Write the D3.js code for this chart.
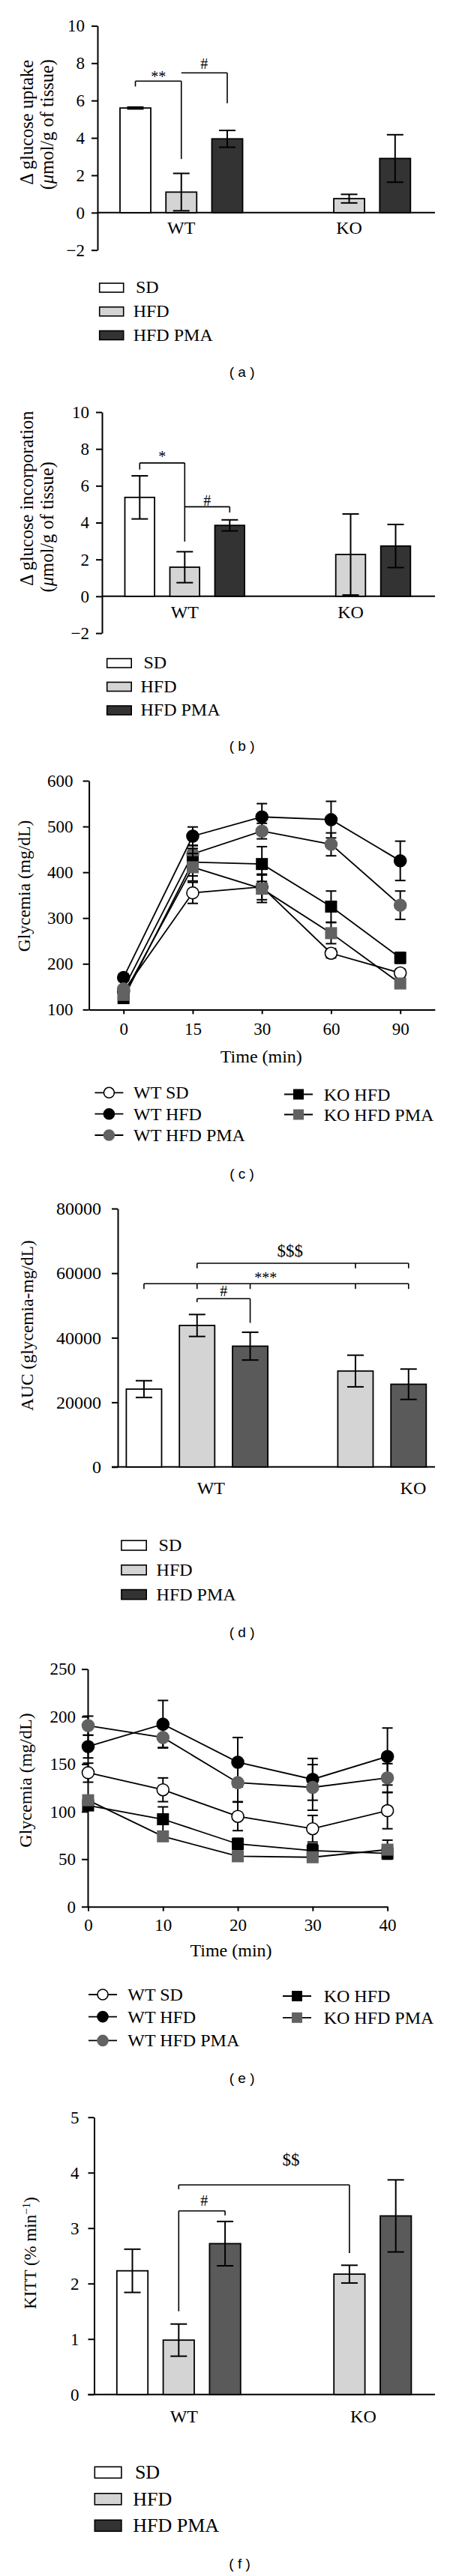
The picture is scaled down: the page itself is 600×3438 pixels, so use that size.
<!DOCTYPE html>
<html><head><meta charset="utf-8">
<script src="https://cdn.jsdelivr.net/npm/d3@7/dist/d3.min.js"></script>
<style>body{margin:0;background:#fff}svg{display:block}</style>
</head><body>
<svg id="fig" width="600" height="3438"></svg>
<script>
// ---------------- DATA ----------------
const groups = ["WT", "KO"];
const series = ["SD", "HFD", "HFD PMA"];

// (a) glucose uptake
const aMean = [[5.6, 1.1, 3.95], [null, 0.75, 2.9]];
const aErr  = [[0.05, 1.0, 0.45], [null, 0.23, 1.27]];
const aTicks = [-2, 0, 2, 4, 6, 8, 10];
// (b) glucose incorporation
const bMean = [[5.37, 1.58, 3.85], [null, 2.27, 2.73]];
const bErr  = [[1.17, 0.84, 0.3], [null, 2.2, 1.17]];
const bTicks = [-2, 0, 2, 4, 6, 8, 10];
// (d) AUC
const dMean = [[24100, 43800, 37400], [null, 29700, 25600]];
const dErr  = [[2600, 3400, 4300], [null, 4900, 4700]];
const dTicks = [0, 20000, 40000, 60000, 80000];
// (f) KITT
const fMean = [[2.23, 0.98, 2.72], [null, 2.17, 3.22]];
const fErr  = [[0.39, 0.29, 0.4], [null, 0.16, 0.65]];
const fTicks = [0, 1, 2, 3, 4, 5];

// (c) GTT glycemia
const cTime = [0, 15, 30, 60, 90];
const cWTSD   = [140, 355, 368, 223, 180], cWTSDe   = [5, 23, 28, 10, 8];
const cWTHFD  = [170, 479, 521, 515, 425], cWTHFDe  = [8, 20, 29, 40, 43];
const cWTPMA  = [145, 440, 490, 461, 328], cWTPMAe  = [6, 18, 17, 25, 31];
const cKOHFD  = [125, 422, 418, 325, 213], cKOHFDe  = [5, 30, 38, 34, 12];
const cKOPMA  = [132, 411, 364, 267, 157], cKOPMAe  = [5, 30, 30, 23, 8];
const cTicks = [100, 200, 300, 400, 500, 600];
// (e) ITT glycemia
const eTime = [0, 10, 20, 30, 40];
const eWTSD   = [141, 123, 95, 82, 101],        eWTSDe  = [10, 12.5, 15, 14, 19];
const eWTHFD  = [168.5, 192, 152, 134, 158],    eWTHFDe = [12, 25, 26, 22, 30];
const eWTPMA  = [190.5, 178, 130.5, 125.5, 135.5], eWTPMAe = [10, 10.5, 20, 24, 15];
const eKOHFD  = [106.5, 92, 66, 59, 56],        eKOHFDe = [4, 13, 6, 7, 3];
const eKOPMA  = [112, 74, 53, 52, 60],          eKOPMAe = [4, 3, 3, 3, 10];
const eTicks = [0, 50, 100, 150, 200, 250];
const lineNames = ["WT SD", "WT HFD", "WT HFD PMA", "KO HFD", "KO HFD PMA"];

// significance brackets (heights in data units)
const aBrackets = [
  {from: ["WT","SD"], to: ["WT","HFD"], y: 7.04, legs: [[["WT","SD"], 6.75], [["WT","HFD"], 2.87]], label: "**", ly: 7.37},
  {from: ["WT","HFD"], to: ["WT","PMA"], y: 7.48, legs: [[["WT","PMA"], 5.86]], label: "#", ly: 7.97}
];
const bBrackets = [
  {from: ["WT","SD"], to: ["WT","HFD"], y: 7.24, legs: [[["WT","SD"], 6.88], [["WT","HFD"], 2.97]], label: "*", ly: 7.69},
  {from: ["WT","HFD"], to: ["WT","PMA"], y: 4.86, legs: [[["WT","PMA"], 4.55]], label: "#", ly: 5.2}
];
const dBrackets = [
  {from: ["WT","HFD"], to: ["KO","PMA"], y: 63066, legs: [[["WT","HFD"], 61510], [["KO","HFD"], 61510], [["KO","PMA"], 61510]], label: "$$$", ly: 67000, dx: -17},
  {from: ["WT","SD"], to: ["KO","PMA"], y: 56750, legs: [[["WT","SD"], 55100], [["WT","HFD"], 55100], [["WT","PMA"], 55100], [["KO","HFD"], 55100], [["KO","PMA"], 55100]], label: "***", ly: 59200, dx: -14},
  {from: ["WT","HFD"], to: ["WT","PMA"], y: 52100, legs: [[["WT","HFD"], 51000], [["WT","PMA"], 44600]], label: "#", ly: 54400}
];
const fBrackets = [
  {from: ["WT","HFD"], to: ["KO","HFD"], y: 3.78, legs: [[["WT","HFD"], 3.7], [["KO","HFD"], 2.55]], label: "$$", ly: 4.24, dx: 36},
  {from: ["WT","HFD"], to: ["WT","PMA"], y: 3.31, legs: [[["WT","HFD"], 1.5], [["WT","PMA"], 3.23]], label: "#", ly: 3.49, dx: 3}
];

// ---------------- DRAWING ----------------
const SERIF = "'Liberation Serif','Times New Roman',serif";
const SANS = "'Liberation Sans',Arial,sans-serif";
const svg = d3.select("#fig");
const sKey = {SD: "SD", HFD: "HFD", PMA: "HFD PMA"};

function styleAxis(sel, fs) {
  sel.select(".domain").attr("stroke", "#000").attr("stroke-width", 2);
  sel.selectAll(".tick line").attr("stroke", "#000").attr("stroke-width", 2);
  sel.selectAll(".tick text").attr("fill", "#000").style("font-family", SERIF).style("font-size", fs + "px");
}

function rotLabel(x, y, anchor, fs, parts) {
  const t = svg.append("text").attr("transform", `translate(${x},${y}) rotate(-90)`)
    .attr("text-anchor", anchor).style("font-family", SERIF).style("font-size", fs + "px").attr("fill", "#000");
  parts.forEach(p => {
    const ts = t.append("tspan").text(p.t);
    if (p.it) ts.style("font-style", "italic");
    if (p.sup) ts.attr("baseline-shift", "super").style("font-size", (fs * 0.65) + "px");
  });
}

function caption(txt, x, y) {
  svg.append("text").attr("x", x).attr("y", y).attr("text-anchor", "middle")
    .style("font-family", SANS).style("font-size", "19px").attr("fill", "#000").text(txt);
}

function barPanel(p) {
  const g = svg.append("g");
  const y = d3.scaleLinear().domain(p.yDomain).range(p.yRange);
  const x0 = d3.scaleBand().domain(groups).range(p.barRange).paddingInner(p.gPad).paddingOuter(0);
  const x1 = d3.scaleBand().domain(series).range([0, x0.bandwidth()]).paddingInner(p.sPad).paddingOuter(0);
  const cx = (gr, s) => x0(gr) + x1(sKey[s]) + x1.bandwidth() / 2;
  const colors = ["#ffffff", "#d4d4d4", p.pmaColor];

  // axes
  const ya = d3.axisLeft(y).tickValues(p.ticks).tickSize(8).tickPadding(p.tickPad).tickSizeOuter(0).tickFormat(d3.format("d"));
  g.append("g").attr("transform", `translate(${p.axisX},0)`).call(ya).call(s => styleAxis(s, p.tickFs));
  g.append("line").attr("x1", p.axisX - (p.yDomain[0] === 0 ? 8 : 0)).attr("x2", p.axisRight)
    .attr("y1", y(0)).attr("y2", y(0)).attr("stroke", "#000").attr("stroke-width", 2);

  // bars + error bars
  groups.forEach((gr, gi) => series.forEach((s, si) => {
    const v = p.mean[gi][si];
    if (v == null) return;
    const e = p.err[gi][si];
    const bx = x0(gr) + x1(s), bw = x1.bandwidth(), c = bx + bw / 2;
    g.append("rect").attr("x", bx).attr("y", y(v)).attr("width", bw).attr("height", y(0) - y(v))
      .attr("fill", colors[si]).attr("stroke", "#000").attr("stroke-width", 1.8);
    g.append("line").attr("x1", c).attr("x2", c).attr("y1", y(v - e)).attr("y2", y(v + e)).attr("stroke", "#000").attr("stroke-width", 2);
    [v - e, v + e].forEach(w => g.append("line").attr("x1", c - 11).attr("x2", c + 11).attr("y1", y(w)).attr("y2", y(w)).attr("stroke", "#000").attr("stroke-width", 2));
  }));

  // category labels
  groups.forEach((gr, gi) => {
    g.append("text").attr("x", x0(gr) + x0.bandwidth() / 2 + p.catDx[gi]).attr("y", y(0) + p.catDy)
      .attr("text-anchor", "middle").style("font-family", SERIF).style("font-size", "24px").attr("fill", "#000").text(gr);
  });

  // brackets
  p.brackets.forEach(b => {
    const xa = cx(b.from[0], b.from[1]), xb = cx(b.to[0], b.to[1]);
    g.append("line").attr("x1", xa).attr("x2", xb).attr("y1", y(b.y)).attr("y2", y(b.y)).attr("stroke", "#000").attr("stroke-width", 1.6);
    b.legs.forEach(l => {
      const lx = cx(l[0][0], l[0][1]);
      g.append("line").attr("x1", lx).attr("x2", lx).attr("y1", y(b.y)).attr("y2", y(l[1])).attr("stroke", "#000").attr("stroke-width", 1.6);
    });
    const fs = b.label[0] === "$" ? 23 : 20;
    const k = b.label[0] === "*" ? 0.47 : 0.34;
    g.append("text").attr("x", (xa + xb) / 2 + (b.dx || 0)).attr("y", y(b.ly) + k * fs)
      .attr("text-anchor", "middle").style("font-family", SERIF).style("font-size", fs + "px").attr("fill", "#000").text(b.label);
  });

  // legend
  const L = p.legend;
  series.forEach((s, i) => {
    const by = L.y0 + i * L.dy;
    g.append("rect").attr("x", L.x).attr("y", by - L.h).attr("width", L.w).attr("height", L.h)
      .attr("fill", ["#ffffff", "#d4d4d4", "#333333"][i]).attr("stroke", "#000").attr("stroke-width", 1.6);
    g.append("text").attr("x", L.tx[i]).attr("y", by + 1).style("font-family", SERIF).style("font-size", L.fs + "px").attr("fill", "#000").text(s);
  });
}

function linePanel(p) {
  const g = svg.append("g");
  const x = p.x;
  const y = d3.scaleLinear().domain(p.yDomain).range(p.yRange);
  const xa = d3.axisBottom(x).tickValues(p.times).tickSize(6).tickPadding(p.xPad).tickSizeOuter(0).tickFormat(d3.format("d"));
  g.append("g").attr("transform", `translate(0,${p.yRange[0]})`).call(xa).call(s => styleAxis(s, 23));
  const ya = d3.axisLeft(y).tickValues(p.ticks).tickSize(8).tickPadding(p.yPad).tickSizeOuter(0).tickFormat(d3.format("d"));
  g.append("g").attr("transform", `translate(${p.axisX},0)`).call(ya).call(s => styleAxis(s, 23));

  const line = d3.line().x((d, i) => x(p.times[i])).y(d => y(d));
  p.series.forEach(s => g.append("path").attr("d", line(s.v)).attr("fill", "none").attr("stroke", "#000").attr("stroke-width", 1.8));
  p.series.forEach(s => {
    s.v.forEach((v, i) => {
      const e = s.e[i], px = x(p.times[i]);
      g.append("line").attr("x1", px).attr("x2", px).attr("y1", y(v - e)).attr("y2", y(v + e)).attr("stroke", "#000").attr("stroke-width", 2);
      [v - e, v + e].forEach(w => g.append("line").attr("x1", px - 7).attr("x2", px + 7).attr("y1", y(w)).attr("y2", y(w)).attr("stroke", "#000").attr("stroke-width", 2));
    });
    s.v.forEach((v, i) => marker(g, x(p.times[i]), y(v), s.style, 8));
  });

  // x title
  g.append("text").attr("x", p.xTitle[0]).attr("y", p.xTitle[1]).attr("text-anchor", "middle")
    .style("font-family", SERIF).style("font-size", "24px").attr("fill", "#000").text("Time (min)");

  // legend
  p.series.forEach((s, i) => {
    const col = i < 3 ? p.legend.left : p.legend.right;
    const cy = col.rows[i < 3 ? i : i - 3];
    g.append("line").attr("x1", col.mx - 19).attr("x2", col.mx + 19).attr("y1", cy).attr("y2", cy).attr("stroke", "#000").attr("stroke-width", 1.8);
    marker(g, col.mx, cy, s.style, 7);
    g.append("text").attr("x", col.tx).attr("y", cy + 8).style("font-family", SERIF).style("font-size", "24px").attr("fill", "#000").text(s.name);
  });
}

function marker(g, cx, cy, st, r) {
  if (st.shape === "circle") {
    g.append("circle").attr("cx", cx).attr("cy", cy).attr("r", r).attr("fill", st.fill)
      .attr("stroke", st.fill === "#ffffff" ? "#000" : st.fill).attr("stroke-width", 1.6);
  } else {
    g.append("rect").attr("x", cx - r).attr("y", cy - r).attr("width", 2 * r).attr("height", 2 * r).attr("fill", st.fill);
  }
}

const lineStyles = [
  {shape: "circle", fill: "#ffffff"},
  {shape: "circle", fill: "#000000"},
  {shape: "circle", fill: "#626262"},
  {shape: "square", fill: "#000000"},
  {shape: "square", fill: "#626262"}
];

// (a)
barPanel({
  yDomain: [-2, 10], yRange: [333.7, 34.4], ticks: aTicks, axisX: 130, axisRight: 580, tickPad: 9, tickFs: 23,
  barRange: [160, 547.3], gPad: 0.2694, sPad: 0.33, mean: aMean, err: aErr, pmaColor: "#333333",
  catDx: [0, 0], catDy: 28, brackets: aBrackets,
  legend: {x: 132.7, w: 32, h: 12, y0: 390, dy: 31.75, tx: [181, 177.7, 177.7], fs: 24}
});
rotLabel(44, 246.7, "start", 24.5, [{t: "Δ glucose uptake"}]);
rotLabel(71, 253.3, "start", 24.5, [{t: "("}, {t: "μ", it: true}, {t: "mol/g of tissue)"}]);
caption("( a )", 322.6, 503);

// (b)
barPanel({
  yDomain: [-2, 10], yRange: [845, 550], ticks: bTicks, axisX: 136, axisRight: 580, tickPad: 9, tickFs: 23,
  barRange: [166.5, 547.3], gPad: 0.2785, sPad: 0.34, mean: bMean, err: bErr, pmaColor: "#333333",
  catDx: [0, 0], catDy: 29, brackets: bBrackets,
  legend: {x: 142.7, w: 32.5, h: 12, y0: 891, dy: 31.5, tx: [191.4, 187.5, 187.5], fs: 24}
});
rotLabel(44, 782, "start", 24.5, [{t: "Δ glucose incorporation"}]);
rotLabel(71, 790.4, "start", 24.5, [{t: "("}, {t: "μ", it: true}, {t: "mol/g of tissue)"}]);
caption("( b )", 322.6, 1002);

// (c)
linePanel({
  x: d3.scalePoint().domain(cTime).range([118.6, 579.8]).padding(0.5),
  times: cTime, yDomain: [100, 600], yRange: [1347.4, 1042], ticks: cTicks, axisX: 118.6, xPad: 11, yPad: 13,
  series: [
    {name: lineNames[0], v: cWTSD, e: cWTSDe, style: lineStyles[0]},
    {name: lineNames[1], v: cWTHFD, e: cWTHFDe, style: lineStyles[1]},
    {name: lineNames[2], v: cWTPMA, e: cWTPMAe, style: lineStyles[2]},
    {name: lineNames[3], v: cKOHFD, e: cKOHFDe, style: lineStyles[3]},
    {name: lineNames[4], v: cKOPMA, e: cKOPMAe, style: lineStyles[4]}
  ],
  xTitle: [348.3, 1418],
  legend: {left: {mx: 145.4, tx: 178, rows: [1458.3, 1486.7, 1515]}, right: {mx: 398, tx: 431.7, rows: [1460.5, 1487.5]}}
});
rotLabel(39.5, 1182.5, "middle", 23.5, [{t: "Glycemia (mg/dL)"}]);
caption("( c )", 322.6, 1573);

// (d)
barPanel({
  yDomain: [0, 80000], yRange: [1957.8, 1613], ticks: dTicks, axisX: 157, axisRight: 580, tickPad: 14, tickFs: 24,
  barRange: [168.4, 568.3], gPad: 0.1065, sPad: 0.335, mean: dMean, err: dErr, pmaColor: "#5a5a5a",
  catDx: [18.6, 77], catDy: 36, brackets: dBrackets,
  legend: {x: 161.9, w: 33.3, h: 13, y0: 2069, dy: 32.8, tx: [211.6, 208.6, 208.6], fs: 24}
});
rotLabel(43.5, 1769, "middle", 23.5, [{t: "AUC (glycemia-mg/dL)"}]);
caption("( d )", 322.6, 2185);

// (e)
linePanel({
  x: d3.scaleLinear().domain([0, 40]).range([117.5, 516.6]),
  times: eTime, yDomain: [0, 250], yRange: [2544.7, 2227.6], ticks: eTicks, axisX: 117, xPad: 10, yPad: 8,
  series: [
    {name: lineNames[0], v: eWTSD, e: eWTSDe, style: lineStyles[0]},
    {name: lineNames[1], v: eWTHFD, e: eWTHFDe, style: lineStyles[1]},
    {name: lineNames[2], v: eWTPMA, e: eWTPMAe, style: lineStyles[2]},
    {name: lineNames[3], v: eKOHFD, e: eKOHFDe, style: lineStyles[3]},
    {name: lineNames[4], v: eKOPMA, e: eKOPMAe, style: lineStyles[4]}
  ],
  xTitle: [308, 2611],
  legend: {left: {mx: 137, tx: 170.3, rows: [2662, 2691.6, 2723.4]}, right: {mx: 396, tx: 431.7, rows: [2664, 2692.8]}}
});
rotLabel(41.5, 2376, "middle", 24, [{t: "Glycemia (mg/dL)"}]);
caption("( e )", 322.6, 2780);

// (f)
barPanel({
  yDomain: [0, 5], yRange: [3195.7, 2825.7], ticks: fTicks, axisX: 125.5, axisRight: 580, tickPad: 12, tickFs: 23,
  barRange: [155.8, 548.4], gPad: 0.275, sPad: 0.33, mean: fMean, err: fErr, pmaColor: "#5a5a5a",
  catDx: [7, 18.5], catDy: 37, brackets: fBrackets,
  legend: {x: 126.3, w: 35.6, h: 15, y0: 3307.3, dy: 35.5, tx: [179.9, 177.2, 177.2], fs: 26}
});
rotLabel(48, 3007, "middle", 23, [{t: "KITT (% min"}, {t: "−1", sup: true}, {t: ")"}]);
caption("( f )", 319.6, 3428);
</script>
</body></html>
